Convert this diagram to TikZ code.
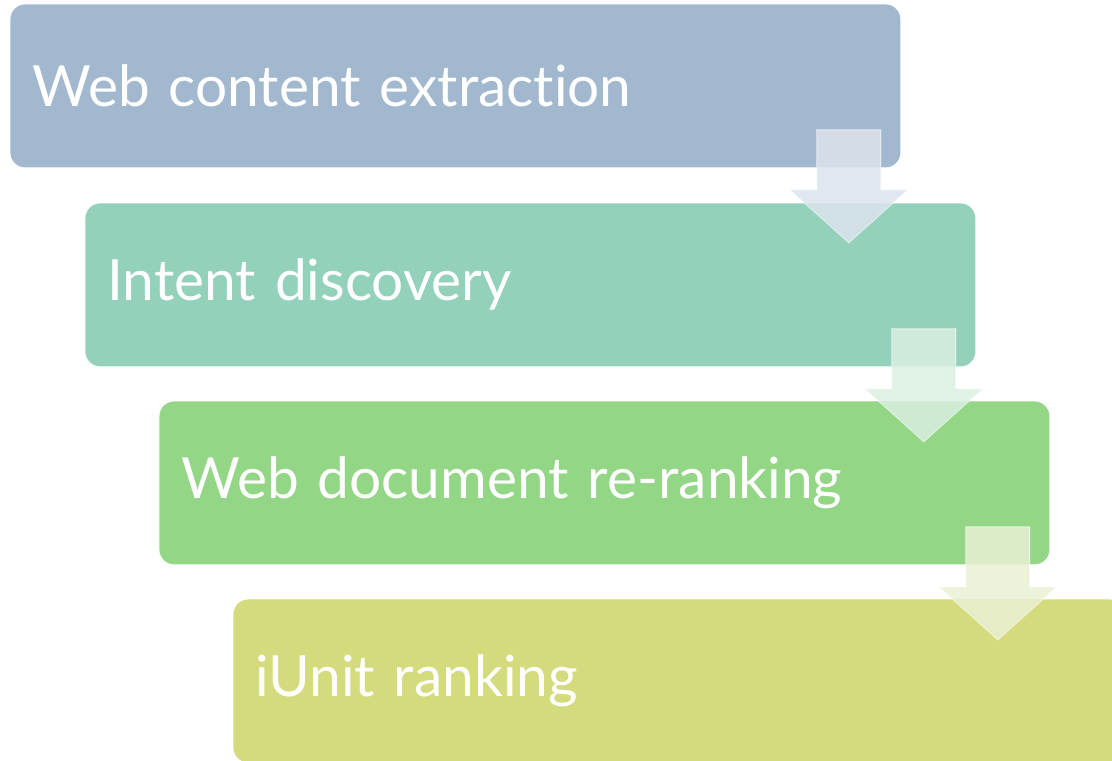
\documentclass[tikz,border=0pt]{standalone}
\usepackage{fontspec}
\setmainfont{Lato}[RawFeature=-liga]
\usetikzlibrary{positioning}
\definecolor{stageA}{RGB}{162,184,206}
\definecolor{stageB}{RGB}{147,209,187}
\definecolor{stageC}{RGB}{146,214,134}
\definecolor{stageD}{RGB}{212,219,124}
\definecolor{flowA}{RGB}{220,227,236}
\definecolor{flowB}{RGB}{218,238,225}
\definecolor{flowC}{RGB}{234,240,212}
\tikzset{
  stage/.style={anchor=north west, rounded corners=7.5pt, minimum width=445pt,
    minimum height=81.5pt, text width=423pt, inner xsep=11pt, align=left,
    text=white, font=\fontsize{28.4}{34}\selectfont},
  flowarrow/.style={fill opacity=0.85, draw=white, draw opacity=0.45, line width=0.6pt}
}
\begin{document}
\begin{tikzpicture}[x=0.5pt, y=-0.5pt]
	\clip (0,0) rectangle (1112,760);
	\node[stage, fill=stageA] (b1) at (10,4) {Web content extraction};
	\node[stage, fill=stageB] (b2) at (85,203) {Intent discovery};
	\node[stage, fill=stageC] (b3) at (159,401) {Web document re-ranking};
	\node[stage, fill=stageD] (b4) at (233,599) {iUnit ranking};
	% block arrows between the stages
	\foreach \i/\c in {1/flowA,2/flowB,3/flowC}
		\draw[flowarrow, fill=\c, shift={(b\i.south east)}]
			(-84,-38) -- (-20,-38) -- (-20,22) -- (7,22) -- (-52,75) -- (-111,22) -- (-84,22) -- cycle;
\end{tikzpicture}
\end{document}
